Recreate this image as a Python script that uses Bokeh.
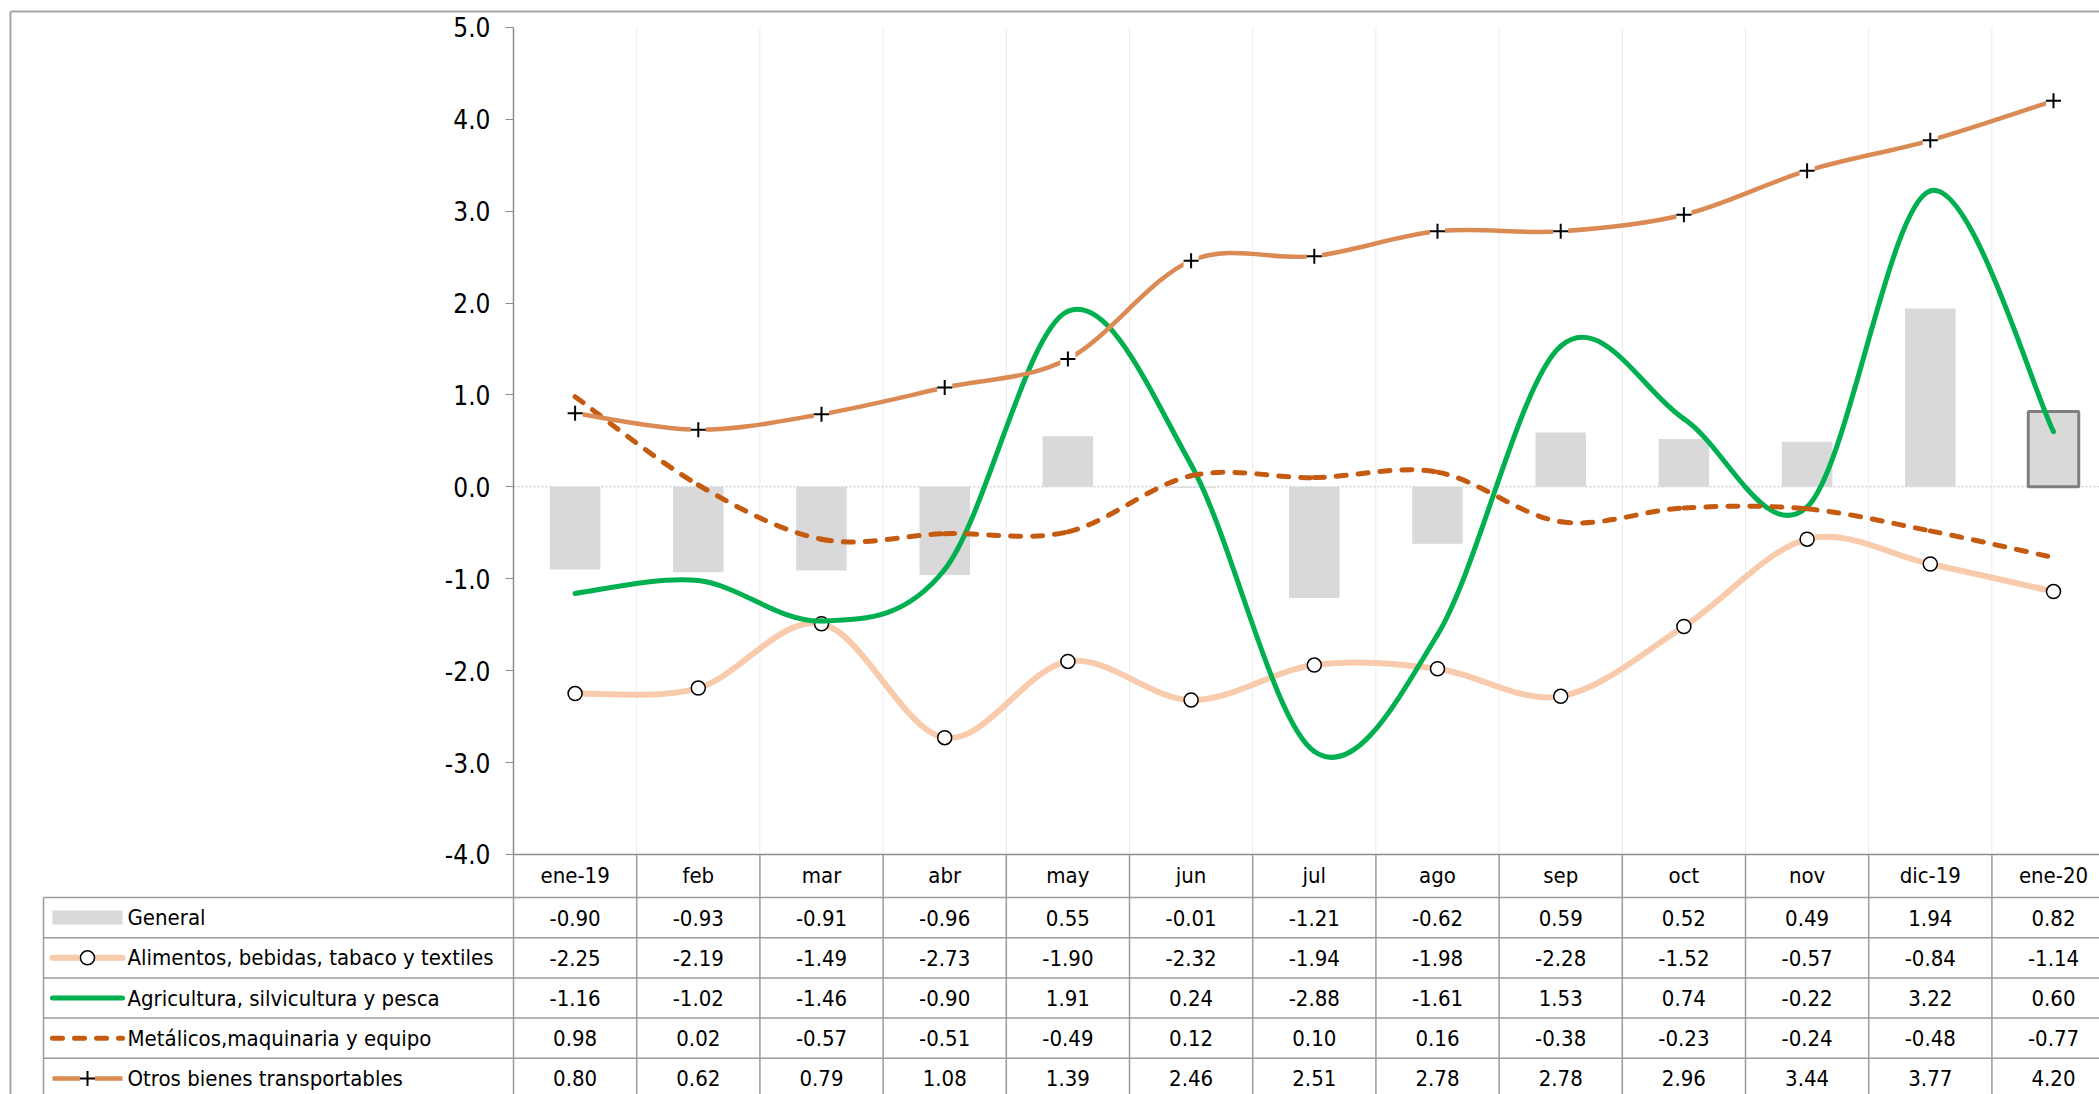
import glob
import os

from bokeh.plotting import figure
from bokeh.models import Range1d, LinearAxis, FixedTicker, NumeralTickFormatter
from bokeh.core.properties import value
from bokeh.embed import file_html
from bokeh.resources import INLINE

# ---------------- data ----------------
categories = ["ene-19", "feb", "mar", "abr", "may", "jun", "jul", "ago",
              "sep", "oct", "nov", "dic-19", "ene-20"]
general = [-0.90, -0.93, -0.91, -0.96, 0.55, -0.01, -1.21, -0.62, 0.59, 0.52, 0.49, 1.94, 0.82]
alimentos = [-2.25, -2.19, -1.49, -2.73, -1.90, -2.32, -1.94, -1.98, -2.28, -1.52, -0.57, -0.84, -1.14]
agricultura = [-1.16, -1.02, -1.46, -0.90, 1.91, 0.24, -2.88, -1.61, 1.53, 0.74, -0.22, 3.22, 0.60]
metalicos = [0.98, 0.02, -0.57, -0.51, -0.49, 0.12, 0.10, 0.16, -0.38, -0.23, -0.24, -0.48, -0.77]
otros = [0.80, 0.62, 0.79, 1.08, 1.39, 2.46, 2.51, 2.78, 2.78, 2.96, 3.44, 3.77, 4.20]
series_names = ["General",
                "Alimentos, bebidas, tabaco y textiles",
                "Agricultura, silvicultura y pesca",
                "Metálicos,maquinaria y equipo",
                "Otros bienes transportables"]
y_ticks = [-4, -3, -2, -1, 0, 1, 2, 3, 4, 5]


# ---------------- fonts ----------------
def has_font(pattern):
    dirs = ["/usr/share/fonts", "/usr/local/share/fonts",
            os.path.expanduser("~/.fonts"), os.path.expanduser("~/.local/share/fonts")]
    for d in dirs:
        if os.path.isdir(d) and glob.glob(os.path.join(d, "**", pattern), recursive=True):
            return True
    return False


if has_font("LiberationSansNarrow-Regular*"):
    FONT, FS, FS_TICK = "Liberation Sans Narrow", "27px", "28px"
elif has_font("NimbusSansNarrow-Regular*"):
    FONT, FS, FS_TICK = "Nimbus Sans Narrow", "27px", "28px"
else:
    FONT, FS, FS_TICK = "DejaVu Sans Condensed", "22px", "26px"

# ---------------- styles / layout ----------------
C_BAR = "#d9d9d9"
C_ALI = "#f8cbad"
C_AGR = "#00b050"
C_MET = "#c55a11"
C_OTR = "#da8a52"
C_BORDER = "#9a9a9a"
C_AXIS = "#8c8c8c"

W, H = 2099, 1094
AX_PX = 513.0      # y axis position (px)
CAT_PX = 123.2     # px per category
Y5_PX = 26.8       # px of the 5.0 tick from the top
UNIT_PX = 91.9     # px per unit of y

x_start = -0.5 - AX_PX / CAT_PX
x_end = -0.5 + (W - AX_PX) / CAT_PX
y_end = 5 + Y5_PX / UNIT_PX
y_start = 5 - (H - Y5_PX) / UNIT_PX


def dx(px):
    return x_start + px / CAT_PX


def dy(py):
    return y_end - py / UNIT_PX


n = len(categories)
idx = list(range(n))
y_min, y_max = y_ticks[0], y_ticks[-1]

p = figure(width=W, height=H, x_range=Range1d(x_start, x_end), y_range=Range1d(y_start, y_end),
           output_backend="svg", toolbar_location=None, x_axis_location=None, y_axis_location=None,
           min_border=0, outline_line_color=None, background_fill_color="white")
p.grid.visible = False

# outer chart border (top & left)
p.segment(x0=[dx(10), dx(10)], y0=[dy(11), dy(11)], x1=[x_end, dx(10)], y1=[dy(11), y_start],
          line_color="#a6a6a6", line_width=2)

# vertical light gridlines inside plot
gx = [i + 0.5 for i in range(n - 1)]
p.segment(x0=gx, y0=[y_min] * len(gx), x1=gx, y1=[y_max] * len(gx), line_color="#ececec", line_width=1)

# zero line
p.segment(x0=[-0.5], y0=[0], x1=[x_end], y1=[0], line_color="#bdbdbd", line_width=1, line_dash="2 2")

# bars
p.vbar(x=idx, top=general, bottom=0, width=0.41, fill_color=C_BAR, line_color=None)
p.vbar(x=[idx[-1]], top=[general[-1]], bottom=0, width=0.41, fill_color=C_BAR,
       line_color="#7f7f7f", line_width=3)


def smooth(vals):
    """Bezier segments (Excel-like smoothing) through the data points."""
    m = len(vals)
    x0, y0, x1, y1, cx0, cy0, cx1, cy1 = [], [], [], [], [], [], [], []
    for i in range(m - 1):
        a = max(i - 1, 0)
        b = min(i + 2, m - 1)
        x0.append(i); y0.append(vals[i]); x1.append(i + 1); y1.append(vals[i + 1])
        cx0.append(i + (i + 1 - a) / 6.0); cy0.append(vals[i] + (vals[i + 1] - vals[a]) / 6.0)
        cx1.append(i + 1 - (b - i) / 6.0); cy1.append(vals[i + 1] - (vals[b] - vals[i]) / 6.0)
    return dict(x0=x0, y0=y0, x1=x1, y1=y1, cx0=cx0, cy0=cy0, cx1=cx1, cy1=cy1)


p.bezier(**smooth(alimentos), line_color=C_ALI, line_width=6, line_cap="round")
p.scatter(x=idx, y=alimentos, marker="circle", size=14, fill_color="white", line_color="black", line_width=1.5)
p.bezier(**smooth(agricultura), line_color=C_AGR, line_width=5, line_cap="round")
p.bezier(**smooth(metalicos), line_color=C_MET, line_width=5, line_dash="10 12", line_cap="round")
p.bezier(**smooth(otros), line_color=C_OTR, line_width=4.5, line_cap="butt")
p.scatter(x=idx, y=otros, marker="square", size=15, fill_color="white", line_color=None)
p.scatter(x=idx, y=otros, marker="cross", size=15, line_color="black", line_width=2)

# y axis
yax = LinearAxis(fixed_location=-0.5, bounds=(y_min, y_max), ticker=FixedTicker(ticks=y_ticks),
                 formatter=NumeralTickFormatter(format="0.0"))
yax.axis_line_color = C_AXIS
yax.axis_line_width = 1.5
yax.major_tick_line_color = C_AXIS
yax.major_tick_out = 8
yax.major_tick_in = 0
yax.minor_tick_out = 0
yax.minor_tick_in = 0
yax.major_label_text_font = FONT
yax.major_label_text_font_size = FS_TICK
yax.major_label_text_color = "black"
yax.major_label_standoff = 15
p.add_layout(yax, "left")

# ---------------- data table ----------------
head_top = y_min
head_bot = dy(897)
row_h = 40.2 / UNIT_PX
row_tops = [head_bot - k * row_h for k in range(len(series_names) + 1)]
lab_left = dx(43)

# x-axis line (top of header)
p.segment(x0=[-0.5], y0=[head_top], x1=[x_end], y1=[head_top], line_color=C_AXIS, line_width=1.5)
# horizontal borders
hy = row_tops
p.segment(x0=[lab_left] * len(hy), y0=hy, x1=[x_end] * len(hy), y1=hy, line_color=C_BORDER, line_width=1.5)
# vertical borders of columns
vx = [i - 0.5 for i in range(n + 1)]
p.segment(x0=vx, y0=[head_top] * len(vx), x1=vx, y1=[y_start] * len(vx), line_color=C_BORDER, line_width=1.5)
# left border of label column
p.segment(x0=[lab_left], y0=[head_bot], x1=[lab_left], y1=[y_start], line_color=C_BORDER, line_width=1.5)

# header labels
p.text(x=idx, y=[(head_top + head_bot) / 2] * n, text=categories, text_font=value(FONT),
       text_font_size=FS, text_align="center", text_baseline="middle", text_color="black")

all_series = [general, alimentos, agricultura, metalicos, otros]
for k, (name, vals) in enumerate(zip(series_names, all_series)):
    yc = row_tops[k] - row_h / 2
    p.text(x=idx, y=[yc] * n, text=[f"{v:.2f}" for v in vals], text_font=value(FONT),
           text_font_size=FS, text_align="center", text_baseline="middle", text_color="black")
    p.text(x=[dx(127)], y=[yc], text=[name], text_font=value(FONT), text_font_size=FS,
           text_align="left", text_baseline="middle", text_color="black")

# legend keys in the table
sx0, sx1, sxc = dx(52), dx(122), dx(87)
yc = [row_tops[k] - row_h / 2 for k in range(len(series_names))]
p.quad(left=[sx0], right=[sx1], top=[yc[0] + 7 / UNIT_PX], bottom=[yc[0] - 7 / UNIT_PX],
       fill_color=C_BAR, line_color=None)
p.segment(x0=[sx0], y0=[yc[1]], x1=[sx1], y1=[yc[1]], line_color=C_ALI, line_width=6, line_cap="round")
p.scatter(x=[sxc], y=[yc[1]], marker="circle", size=14, fill_color="white", line_color="black", line_width=1.5)
p.segment(x0=[sx0], y0=[yc[2]], x1=[sx1], y1=[yc[2]], line_color=C_AGR, line_width=5, line_cap="round")
p.segment(x0=[sx0], y0=[yc[3]], x1=[sx1], y1=[yc[3]], line_color=C_MET, line_width=5,
          line_dash="10 12", line_cap="round")
p.segment(x0=[sx0], y0=[yc[4]], x1=[sx1], y1=[yc[4]], line_color=C_OTR, line_width=4.5)
p.scatter(x=[sxc], y=[yc[4]], marker="square", size=15, fill_color="white", line_color=None)
p.scatter(x=[sxc], y=[yc[4]], marker="cross", size=15, line_color="black", line_width=2)

open("out.html", "w").write(file_html(p, INLINE))
